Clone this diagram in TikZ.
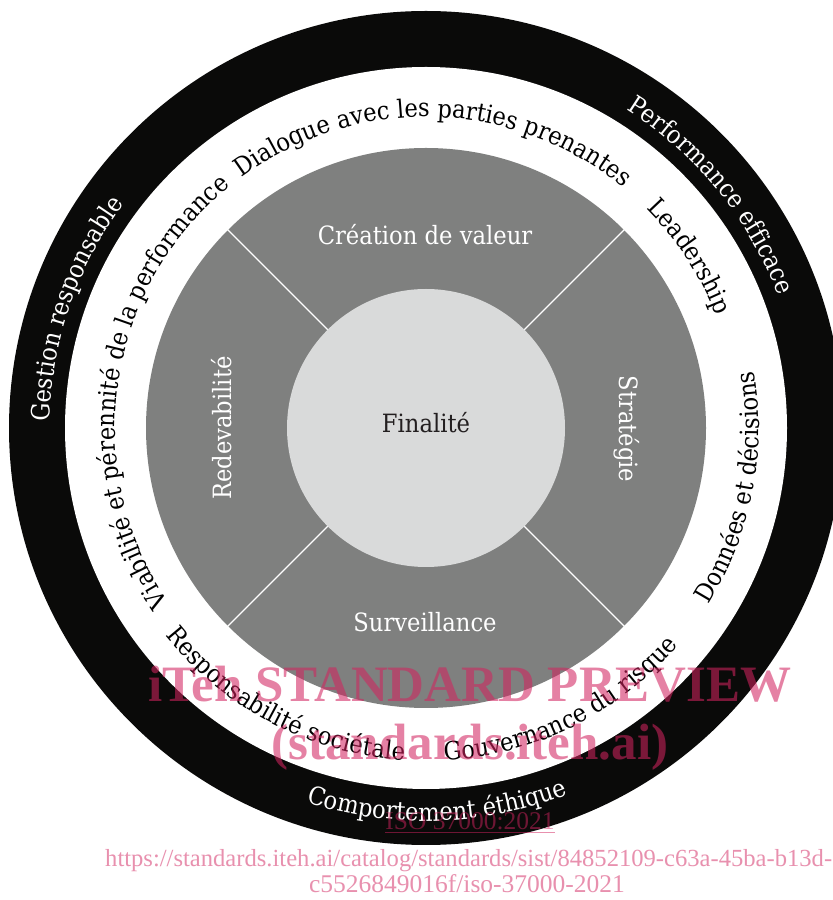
\documentclass[tikz,border=0pt]{standalone}
\usepackage{fontspec}
\setmainfont{DejaVu Serif Condensed}
\newfontfamily\wmfont{Liberation Serif}
\usetikzlibrary{decorations.text}
\definecolor{ringblack}{HTML}{0A0A09}
\definecolor{petalgray}{HTML}{7F807F}
\definecolor{coregray}{HTML}{D9DADA}
\definecolor{coretext}{HTML}{231F20}
\definecolor{wmpink}{RGB}{210,35,95}
\newcommand\ringfont{\fontsize{25.2}{29}\selectfont}
\newcommand\cwtext[4]{%
  \path[decorate,decoration={text along path,text align=center,text color=#3,text={|\ringfont|#4}}]
    (C) ++({#1+80}:#2) arc[start angle={#1+80},end angle={#1-80},radius=#2];}
\newcommand\ccwtext[4]{%
  \path[decorate,decoration={text along path,text align=center,text color=#3,text={|\ringfont|#4}}]
    (C) ++({#1-80}:#2) arc[start angle={#1-80},end angle={#1+80},radius=#2];}
\tikzset{
  petallabel/.style={text=white,font=\ringfont,inner sep=0pt},
  corelabel/.style={text=coretext,font=\ringfont,inner sep=0pt},
  wmbig/.style={text=wmpink,opacity=0.57,font=\wmfont\bfseries\fontsize{51}{55}\selectfont,inner sep=0pt,anchor=base},
  wmsmall/.style={text=wmpink,opacity=0.5,font=\wmfont\fontsize{25.5}{28}\selectfont,inner sep=0pt,anchor=base},
  wmurl/.style={text=wmpink,opacity=0.5,font=\wmfont\fontsize{24.6}{28}\selectfont,inner sep=0pt,anchor=base west},
  divider/.style={white,line width=1.4pt}
}
\begin{document}
\begin{tikzpicture}[x=1pt,y=1pt]
\useasboundingbox (0,0) rectangle (833,900);
\clip (0,0) rectangle (833,900);
\fill[white] (0,0) rectangle (833,900);
\coordinate (C) at (426,472);
% rings
\fill[ringblack] (C) circle (417);
\fill[white] (C) circle (361);
\fill[petalgray] (C) circle (280);
\foreach \a in {45,135,225,315}{
  \draw[divider] (C) ++(\a:138) -- ++(\a:142.5);
}
\fill[coregray] (C) circle (139);
% inner labels
\node[petallabel,anchor=base] (crea) at (425,655) {Création de valeur};
\node[petallabel,anchor=base] (surv) at (425,268) {Surveillance};
\node[petallabel,rotate=90] (rede) at (222,472) {Redevabilité};
\node[petallabel,rotate=-90] (strat) at (627,471) {Stratégie};
\node[corelabel,anchor=base] (fina) at (426,467) {Finalité};
% white ring texts
\cwtext{88.5}{311}{black}{Dialogue avec les parties prenantes}
\cwtext{171.5}{311}{black}{Viabilité et pérennité de la performance}
\cwtext{33}{311}{black}{Leadership}
\ccwtext{-11}{333}{black}{Données et décisions}
\ccwtext{242.4}{333}{black}{Responsabilité sociétale}
\ccwtext{296.2}{333}{black}{Gouvernance du risque}
% black ring texts
\cwtext{161.2}{376}{white}{Gestion responsable}
\cwtext{39.2}{376}{white}{Performance efficace}
\ccwtext{271.7}{393}{white}{Comportement éthique}
% watermark
\node[wmbig] (wm1) at (470,198) {iTeh STANDARD PREVIEW};
\node[wmbig] (wm2) at (470,140) {(standards.iteh.ai)};
\node[wmsmall] (wm3) at (470,70) {\underline{ISO 37000:2021}};
\node[wmurl] (wm4) at (105,34) {https://standards.iteh.ai/catalog/standards/sist/84852109-c63a-45ba-b13d-};
\node[wmsmall] (wm5) at (467,7) {c5526849016f/iso-37000-2021};
\end{tikzpicture}
\end{document}
